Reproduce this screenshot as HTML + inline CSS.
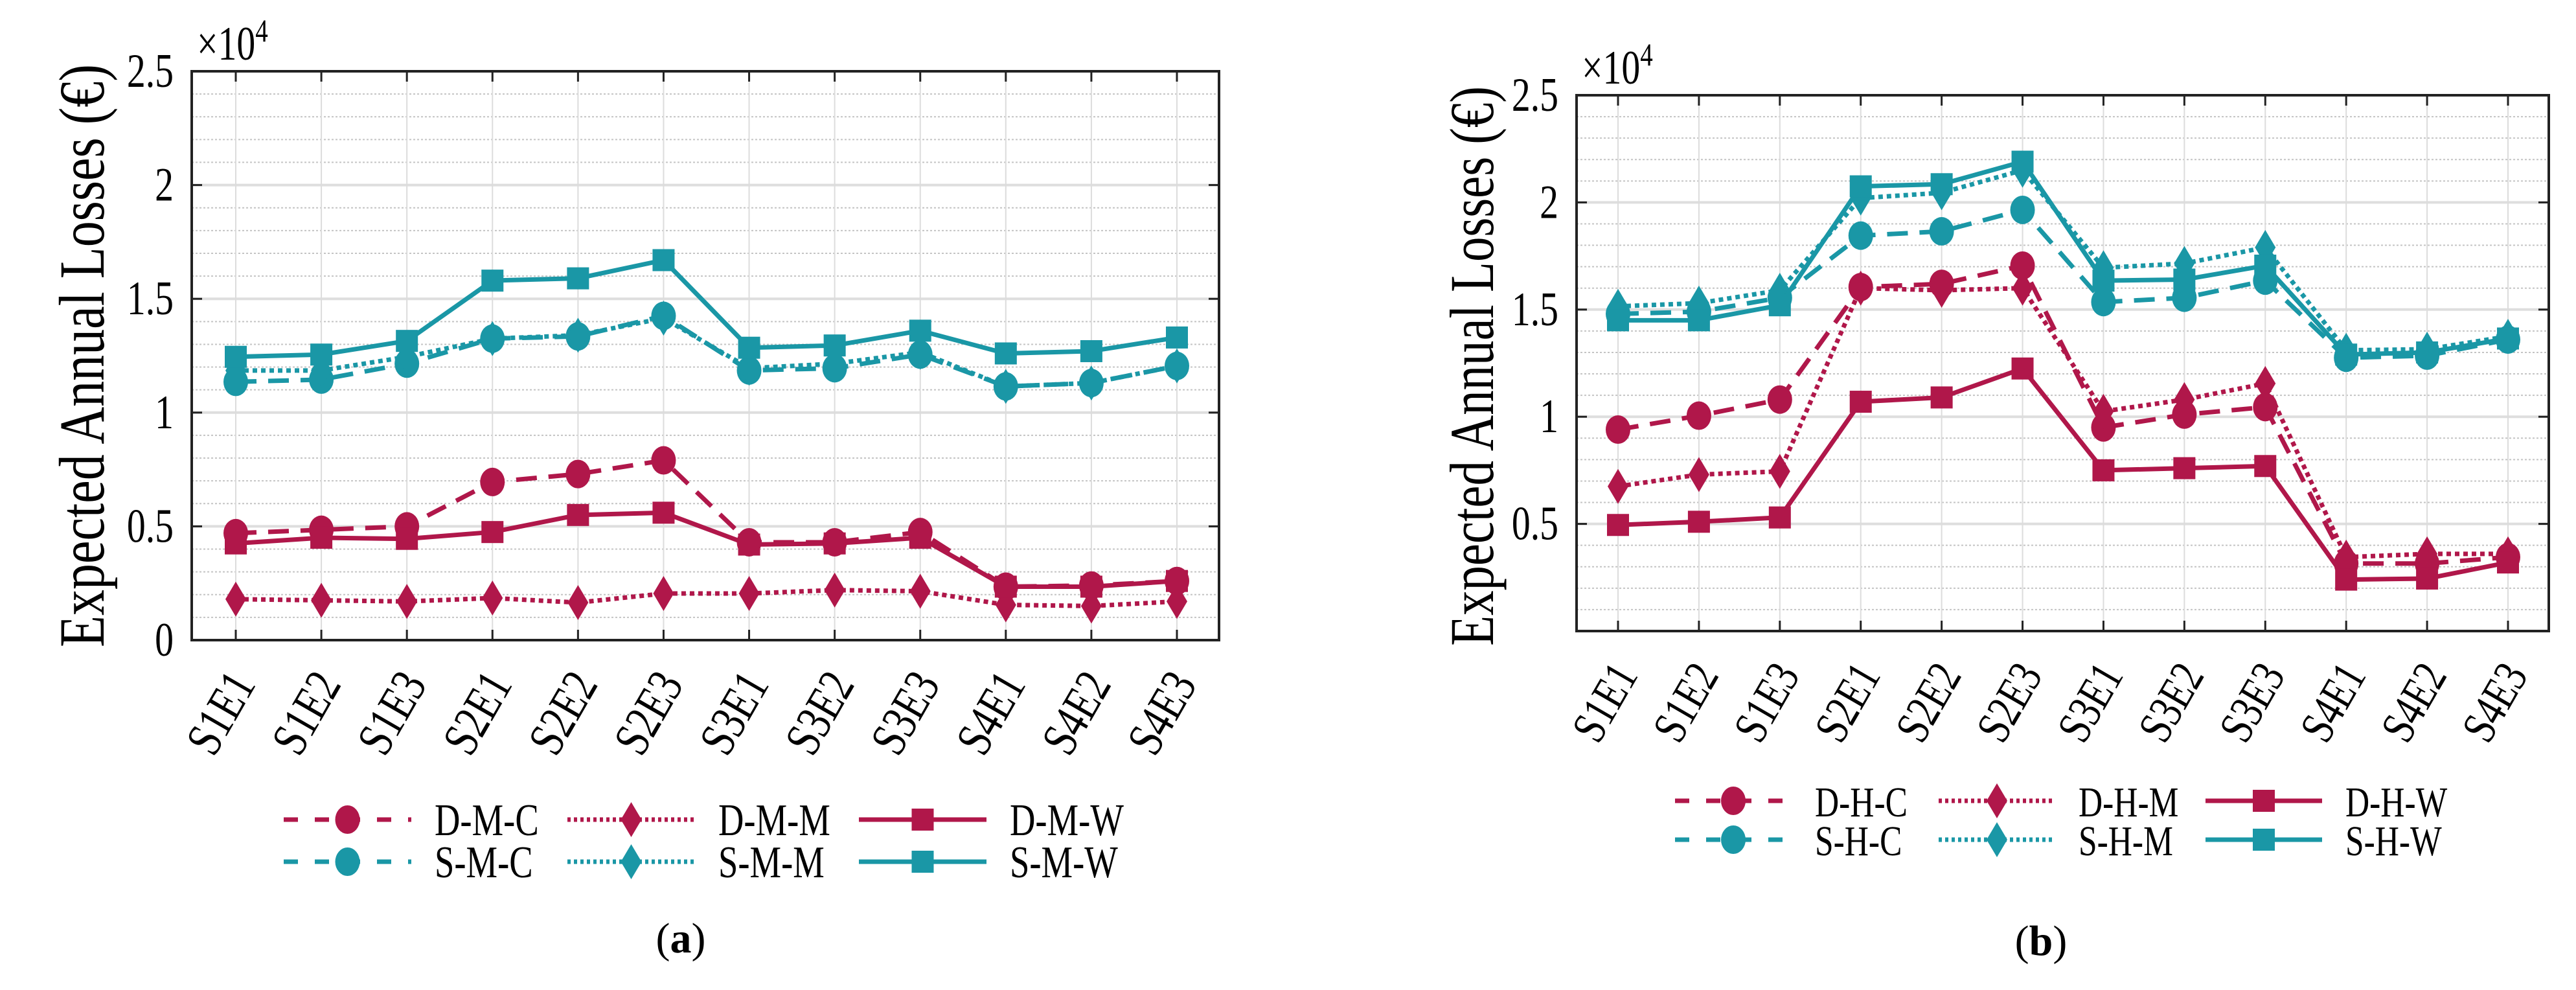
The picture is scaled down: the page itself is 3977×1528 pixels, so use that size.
<!DOCTYPE html>
<html><head><meta charset="utf-8"><style>
html,body{margin:0;padding:0;background:#fff;}
svg{display:block;font-family:"Liberation Serif",serif;}
</style></head><body>
<svg id="chart" width="3977" height="1528" viewBox="0 0 3977 1528" xmlns="http://www.w3.org/2000/svg"></svg>
<script>
const categories = ["S1E1","S1E2","S1E3","S2E1","S2E2","S2E3","S3E1","S3E2","S3E3","S4E1","S4E2","S4E3"];
const yTicksA = [0,0.5,1,1.5,2,2.5];
const yTickLabelsA = ["0","0.5","1","1.5","2","2.5"];
const yTicksB = [0.5,1,1.5,2,2.5];
const yTickLabelsB = ["0.5","1","1.5","2","2.5"];
// panel a (x10^4)
const dmcA = [0.47,0.485,0.50,0.695,0.73,0.79,0.43,0.43,0.475,0.235,0.24,0.26];
const dmmA = [0.18,0.175,0.17,0.185,0.165,0.205,0.205,0.22,0.215,0.155,0.15,0.17];
const dmwA = [0.425,0.45,0.445,0.475,0.55,0.56,0.42,0.425,0.45,0.235,0.235,0.26];
const smcA = [1.135,1.145,1.215,1.325,1.335,1.425,1.185,1.195,1.255,1.115,1.13,1.205];
const smmA = [1.185,1.185,1.245,1.325,1.34,1.415,1.195,1.215,1.265,1.115,1.13,1.205];
const smwA = [1.245,1.255,1.315,1.58,1.59,1.67,1.285,1.295,1.36,1.26,1.27,1.33];
// panel b (x10^4)
const dhcB = [0.94,1.005,1.08,1.605,1.62,1.705,0.95,1.01,1.045,0.315,0.315,0.345];
const dhmB = [0.675,0.73,0.745,1.60,1.59,1.60,1.025,1.08,1.155,0.345,0.36,0.36];
const dhwB = [0.495,0.51,0.53,1.07,1.09,1.225,0.75,0.76,0.77,0.24,0.245,0.32];
const shcB = [1.48,1.49,1.555,1.845,1.865,1.965,1.535,1.555,1.635,1.275,1.285,1.36];
const shmB = [1.515,1.53,1.59,2.02,2.045,2.15,1.695,1.715,1.79,1.31,1.315,1.375];
const shwB = [1.45,1.45,1.52,2.075,2.085,2.19,1.635,1.64,1.705,1.29,1.30,1.365];
const namesA = ["D-M-C","D-M-M","D-M-W","S-M-C","S-M-M","S-M-W"];
const namesB = ["D-H-C","D-H-M","D-H-W","S-H-C","S-H-M","S-H-W"];

const NS="http://www.w3.org/2000/svg";
const svg=document.getElementById('chart');
const RED="#b0174a", TEAL="#1a97a6";
const SX=0.78;
function mk(tag,attrs,parent){const e=document.createElementNS(NS,tag);for(const k in attrs)e.setAttribute(k,attrs[k]);(parent||svg).appendChild(e);return e;}
function txt(g,x,y,str,fs,anchor,rot){
  const t=mk('text',{x:0,y:0,"font-size":fs,"text-anchor":anchor||"start",transform:`translate(${x},${y}) rotate(${rot||0}) scale(${SX},1)`},g);
  t.textContent=str;return t;
}
const styles=[{c:RED,d:"32 18",m:"circle"},{c:RED,d:"7 6",m:"diamond"},{c:RED,d:"",m:"square"},{c:TEAL,d:"32 18",m:"circle"},{c:TEAL,d:"7 6",m:"diamond"},{c:TEAL,d:"",m:"square"}];
function marker(g,type,x,y,c){
  let e;
  if(type==="circle"){e=mk('ellipse',{cx:x,cy:y,rx:19,ry:22,fill:c},g);}
  else if(type==="square"){e=mk('rect',{x:x-17,y:y-17,width:34,height:34,fill:c},g);}
  else {e=mk('polygon',{points:`${x},${y-27} ${x+16},${y} ${x},${y+27} ${x-16},${y}`,fill:c},g);}
  return e;
}
function panel(p){
  const g=mk('g',{});
  
  
  const X=i=>p.x0+(p.x1-p.x0)*i/(categories.length-1);
  const Y=v=>p.yb+(p.yt-p.yb)*(v-p.vmin)/(p.vmax-p.vmin);
  for(let k=1;k<25;k++){const v=k*0.1; if(k%5===0) continue;
    const l=mk('line',{x1:p.L,x2:p.R,y1:Y(v),y2:Y(v),stroke:"#c4c4c4","stroke-width":2,"stroke-dasharray":"3 3"},g);
    }
  for(let k=1;k<5;k++){const v=k*0.5;
    const l=mk('line',{x1:p.L,x2:p.R,y1:Y(v),y2:Y(v),stroke:"#dedede","stroke-width":4},g);
    }
  categories.forEach((c,i)=>{
    const l=mk('line',{x1:X(i),x2:X(i),y1:p.yt,y2:p.yb,stroke:"#dcdcdc","stroke-width":2},g);
    
    mk('line',{x1:X(i),x2:X(i),y1:p.yb,y2:p.yb-16,stroke:"#222","stroke-width":3},g);
    mk('line',{x1:X(i),x2:X(i),y1:p.yt,y2:p.yt+16,stroke:"#222","stroke-width":3},g);
    const t=txt(g,X(i)+32,p.yb+68,c,p.xfs,"end",-60);
    
  });
  p.ticks.forEach((v,i)=>{
    mk('line',{x1:p.L,x2:p.L+16,y1:Y(v),y2:Y(v),stroke:"#222","stroke-width":3},g);
    mk('line',{x1:p.R,x2:p.R-16,y1:Y(v),y2:Y(v),stroke:"#222","stroke-width":3},g);
    const t=txt(g,p.L-28,Y(v)+24,p.tickLabels[i],p.fs,"end",0);
    
  });
  const f=mk('rect',{x:p.L,y:p.yt,width:p.R-p.L,height:p.yb-p.yt,fill:"none",stroke:"#222","stroke-width":4},g);
  
  const ex=mk('text',{x:0,y:0,"font-size":p.fs,transform:`translate(${p.L+8},${p.yt-18}) scale(${SX},1)`},g);
  ex.innerHTML='×10<tspan dy="-28" font-size="50">4</tspan>';
  
  const yt=mk('text',{x:0,y:0,"font-size":p.tfs,"text-anchor":"middle",transform:`translate(${p.titleX},${p.titleY}) rotate(-90) scale(0.8,1)`},g);
  yt.textContent="Expected Annual Losses (€)";
  
  p.series.forEach((s,si)=>{
    const st=styles[si];
    const sg=mk('g',{},g);
    
    
    const pts=s.map((v,i)=>X(i)+","+Y(v)).join(" ");
    const attrs={points:pts,fill:"none",stroke:st.c,"stroke-width":7,"stroke-linejoin":"round"};
    if(st.d) attrs["stroke-dasharray"]=st.d;
    mk('polyline',attrs,sg);
    s.forEach((v,i)=>{const m=marker(sg,st.m,X(i),Y(v),st.c);
      });
  });
  const lg=mk('g',{});
  
  
  p.names.forEach((n,i)=>{
    const col=i%3,row=Math.floor(i/3);const st=styles[i];
    const eg=mk('g',{},lg);
    
    
    const x0=p.legX[col],y=p.legY[row];
    const a={x1:x0,x2:x0+p.legW,y1:y,y2:y,stroke:st.c,"stroke-width":7};
    if(st.d) a["stroke-dasharray"]=st.d==="32 18"?"22 26":"5 5";
    mk('line',a,eg);
    marker(eg,st.m,x0+p.legW/2,y,st.c);
    txt(eg,x0+p.legW+36,y+24,n,p.lfs,"start",0);
  });
  const cap=mk('text',{x:p.capX,y:p.capY,"font-size":66,"text-anchor":"middle"});
  cap.innerHTML='(<tspan font-weight="bold">'+p.cap+'</tspan>)';
  
}
panel({id:"panel-a",L:296,R:1882,yt:110,yb:988,x0:364,x1:1817,vmin:0,vmax:2.5,ticks:yTicksA,tickLabels:yTickLabelsA,
  series:[dmcA,dmmA,dmwA,smcA,smmA,smwA],names:namesA,fs:74,xfs:78,lfs:70,tfs:100,titleX:160,titleY:549,
  legX:[438,876,1326],legY:[1265,1330],legW:197,capX:1051,capY:1470,cap:"a"});
panel({id:"panel-b",L:2434,R:3935,yt:147,yb:974,x0:2498,x1:3872,vmin:0,vmax:2.5,ticks:yTicksB,tickLabels:yTickLabelsB,
  series:[dhcB,dhmB,dhwB,shcB,shmB,shwB],names:namesB,fs:74,xfs:74,lfs:66,tfs:96,titleX:2305,titleY:565,
  legX:[2586,2993,3405],legY:[1236,1296],legW:180,capX:3151,capY:1474,cap:"b"});
</script>
</body></html>
